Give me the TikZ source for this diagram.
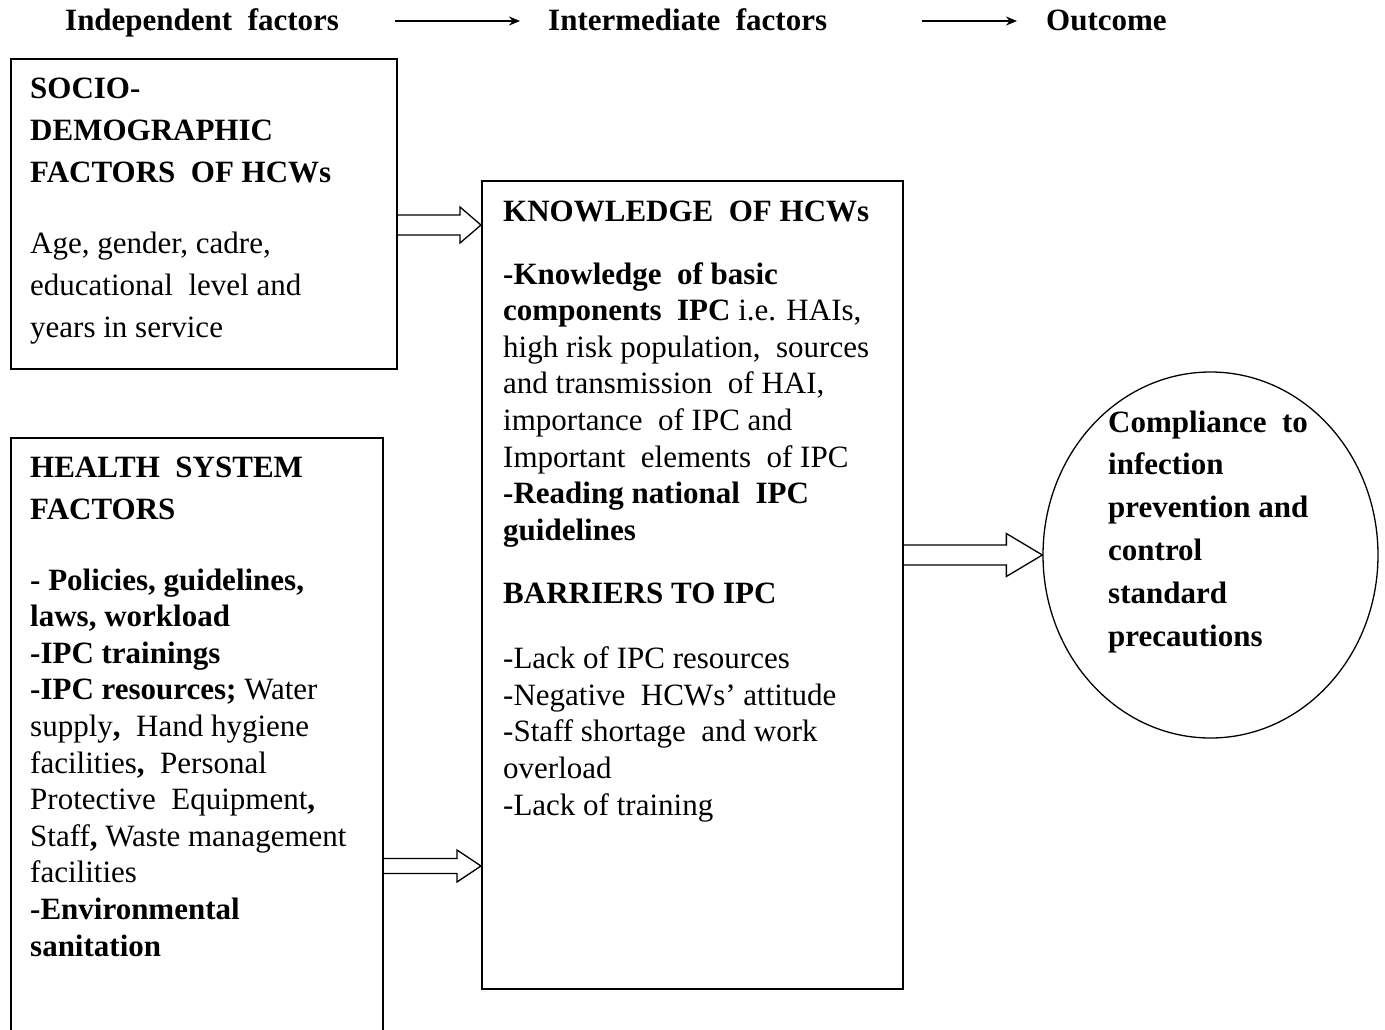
\documentclass[tikz,border=0pt]{standalone}
\usepackage{fontspec}
\setmainfont{Liberation Serif}
\usetikzlibrary{calc,shapes.geometric,arrows.meta}
\tikzset{
  box/.style={draw, line width=1.6pt, rectangle, anchor=north west, inner sep=0pt},
  barrow/.style={draw, line width=1.3pt, line join=miter},
  tw/.style={anchor=base west, inner sep=0pt, align=left, font=\fontsize{31}{42}\selectfont},
  twb/.style={anchor=base west, inner sep=0pt, align=left, font=\bfseries\fontsize{31}{42}\selectfont},
  tn/.style={anchor=base west, inner sep=0pt, align=left, font=\fontsize{31}{36.6}\selectfont},
  hdr/.style={anchor=base west, inner sep=0pt, font=\bfseries\fontsize{31}{36}\selectfont},
  harrow/.style={-{Stealth[length=11pt,width=9pt]}, line width=1.8pt}
}
\newcommand\blockarr[5]{%
  \draw[barrow] ($(#1)+(0,#3)$) -- ($(#2)+(-#4,#3)$) -- ($(#2)+(-#4,#5)$) -- (#2)
    -- ($(#2)+(-#4,-#5)$) -- ($(#2)+(-#4,-#3)$) -- ($(#1)+(0,-#3)$);
}
\begin{document}
\begin{tikzpicture}[x=1pt,y=-1pt]
\useasboundingbox (0,0) rectangle (1385,1029);
% boxes
\node[box, minimum width=386pt, minimum height=310pt] (socio) at (10,58) {};
\node[box, minimum width=421pt, minimum height=808pt] (know) at (481,180) {};
\node[box, minimum width=372pt, minimum height=640pt] (health) at (10,437) {};
\node[draw, line width=1.3pt, ellipse, minimum width=335pt, minimum height=366pt, inner sep=0pt] (outc) at (1210.5,555) {};
% header
\node[hdr] (h1) at (65,30) {Independent \ factors};
\node[hdr] (h2) at (548,30) {Intermediate \ factors};
\node[hdr] (h3) at (1046,30) {Outcome};
\draw[harrow] ($(h2.base west)+(-153,-9)$) -- ($(h2.base west)+(-28,-9)$);
\draw[harrow] ($(h3.base west)+(-124,-9)$) -- ($(h3.base west)+(-29,-9)$);
% box 1 text (base = last line)
\node[twb] (s1) at (30,182) {SOCIO-\\DEMOGRAPHIC\\FACTORS \ OF HCWs};
\node[tw] (s2) at (30,337) {Age, gender, cadre,\\educational \ level and\\years in service};
% box 2 text
\node[twb] (k1) at (503,221) {KNOWLEDGE \ OF HCWs};
\node[tn] (k2) at (503,540.2) {\textbf{-Knowledge \ of basic}\\
\textbf{components \ IPC} i.e. HAIs,\\
high risk population, \ sources\\
and transmission \ of HAI,\\
importance \ of IPC and\\
Important \ elements \ of IPC\\
\textbf{-Reading national \ IPC}\\
\textbf{guidelines}};
\node[twb] (k3) at (503,603) {BARRIERS TO IPC};
\node[tn] (k4) at (503,815) {-Lack of IPC resources\\
-Negative \ HCWs' attitude\\
-Staff shortage \ and work\\
overload\\
-Lack of training};
% box 3 text
\node[twb] (hs1) at (30,519) {HEALTH \ SYSTEM\\FACTORS};
\node[tn] (hs2) at (30,956) {\textbf{- Policies, guidelines,}\\
\textbf{laws, workload}\\
\textbf{-IPC trainings}\\
\textbf{-IPC resources;} Water\\
supply\textbf{,} \ Hand hygiene\\
facilities\textbf{,} \ Personal\\
Protective \ Equipment\textbf{,}\\
Staff\textbf{,} Waste management\\
facilities\\
\textbf{-Environmental}\\
\textbf{sanitation}};
% ellipse text
\node[twb, font=\bfseries\fontsize{31}{42.8}\selectfont] (o1) at (1108,646) {Compliance \ to\\infection\\prevention and\\control\\standard\\precautions};
% block arrows
\coordinate (a1s) at (socio.east |- 0,225);
\coordinate (a1e) at (know.west |- 0,225);
\coordinate (a2s) at (health.east |- 0,866);
\coordinate (a2e) at (know.west |- 0,866);
\coordinate (a3s) at (know.east |- outc.west);
\coordinate (a3e) at (outc.west);
\blockarr{a1s}{a1e}{10}{21}{18}
\blockarr{a2s}{a2e}{7.5}{24}{16}
\blockarr{a3s}{a3e}{10}{36}{21.5}
\end{tikzpicture}
\end{document}
